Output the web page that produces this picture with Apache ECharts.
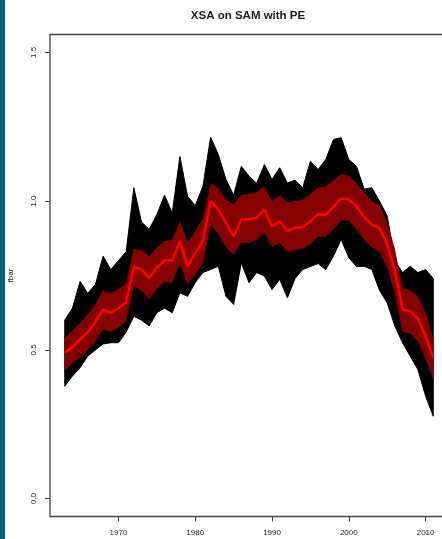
<!DOCTYPE html>
<html>
<head>
<meta charset="utf-8">
<script src="https://cdn.jsdelivr.net/npm/echarts@6/dist/echarts.min.js"></script>
<style>
html,body{margin:0;padding:0;background:#fff;}
#chart{width:442px;height:539px;}
</style>
</head>
<body>
<div id="chart"></div>
<script>
const years = [1963,1964,1965,1966,1967,1968,1969,1970,1971,1972,1973,1974,1975,1976,1977,1978,1979,1980,1981,1982,1983,1984,1985,1986,1987,1988,1989,1990,1991,1992,1993,1994,1995,1996,1997,1998,1999,2000,2001,2002,2003,2004,2005,2006,2007,2008,2009,2010,2011];

const median = [0.490,0.510,0.535,0.560,0.595,0.635,0.625,0.640,0.660,0.780,0.770,0.742,0.776,0.800,0.800,0.865,0.780,0.826,0.865,1.000,0.972,0.927,0.882,0.938,0.938,0.945,0.972,0.916,0.932,0.899,0.910,0.913,0.932,0.955,0.955,0.981,1.008,1.006,0.983,0.947,0.921,0.910,0.854,0.765,0.636,0.630,0.605,0.546,0.474];

const bandUpper = [0.540,0.565,0.590,0.620,0.655,0.700,0.690,0.705,0.725,0.840,0.835,0.815,0.845,0.865,0.870,0.935,0.860,0.900,0.940,1.060,1.045,1.005,0.990,1.020,1.025,1.030,1.050,1.000,1.020,0.995,1.000,1.005,1.025,1.045,1.050,1.070,1.090,1.085,1.060,1.030,1.000,0.985,0.930,0.840,0.710,0.700,0.680,0.625,0.540];

const bandLower = [0.430,0.455,0.475,0.500,0.530,0.570,0.560,0.575,0.595,0.715,0.700,0.670,0.705,0.730,0.725,0.790,0.720,0.755,0.790,0.920,0.890,0.845,0.820,0.860,0.860,0.870,0.895,0.845,0.860,0.830,0.835,0.840,0.855,0.880,0.880,0.905,0.935,0.935,0.905,0.870,0.845,0.830,0.775,0.690,0.560,0.555,0.530,0.470,0.400];

const iterMax = [0.600,0.640,0.730,0.690,0.720,0.815,0.770,0.800,0.830,1.045,0.930,0.905,0.955,1.020,0.960,1.150,1.016,0.985,1.050,1.215,1.157,1.073,1.020,1.117,1.084,1.060,1.123,1.073,1.112,1.061,1.070,1.045,1.134,1.106,1.140,1.207,1.213,1.140,1.117,1.040,1.045,1.000,0.950,0.800,0.760,0.781,0.760,0.770,0.740];

const iterMin = [0.378,0.412,0.440,0.479,0.500,0.520,0.524,0.524,0.560,0.613,0.600,0.580,0.625,0.640,0.625,0.692,0.680,0.726,0.760,0.770,0.781,0.680,0.653,0.793,0.726,0.760,0.748,0.703,0.737,0.675,0.740,0.770,0.780,0.790,0.770,0.815,0.871,0.810,0.780,0.781,0.770,0.700,0.658,0.580,0.524,0.479,0.434,0.345,0.277];

const yTicks = [0, 0.5, 1, 1.5];
const xTicks = [1970, 1980, 1990, 2000, 2010];

const pairs = (ys) => years.map((y, i) => [y, ys[i]]);

function bandRenderer(hi, lo, fill, stroke) {
  return function (params, api) {
    if (params.dataIndex !== 0) return null;
    const pts = [];
    for (let i = 0; i < years.length; i++) pts.push(api.coord([years[i], hi[i]]));
    for (let i = years.length - 1; i >= 0; i--) pts.push(api.coord([years[i], lo[i]]));
    return {
      type: 'polygon',
      shape: {points: pts},
      style: {fill: fill, stroke: stroke || null, lineWidth: stroke ? 1 : 0}
    };
  };
}

const FONT = "'Liberation Sans', Arial, sans-serif";
const chart = echarts.init(document.getElementById('chart'), null, {renderer: 'canvas'});
chart.setOption({
  animation: false,
  backgroundColor: '#ffffff',
  graphic: [
    {type: 'rect', left: 0, top: 0, shape: {x: 0, y: 0, width: 5, height: 539},
      style: {fill: '#005f7f'}, z: 100},
    {type: 'text', x: 248, y: 16, z: 100,
      style: {text: 'XSA on SAM with PE', font: "bold 11.5px 'Liberation Sans', Arial, sans-serif",
        fill: '#1a1a1a', align: 'center', verticalAlign: 'middle'}}
  ],
  grid: {
    left: 50, top: 34.5, width: 398, height: 482,
    outerBoundsMode: 'none', containLabel: false,
    show: true, borderColor: '#444', borderWidth: 1.3, backgroundColor: 'transparent'
  },
  xAxis: {
    type: 'value', min: 1961.08, max: 2012.92,
    splitLine: {show: false},
    axisLine: {show: false, onZero: false},
    axisTick: {show: true, customValues: xTicks, length: 5, lineStyle: {color: '#444', width: 1}},
    axisLabel: {customValues: xTicks, fontSize: 8, fontFamily: FONT, color: '#222', margin: 12,
      formatter: v => String(v)}
  },
  yAxis: {
    type: 'value', min: -0.06, max: 1.56,
    name: 'fbar', nameLocation: 'middle', nameRotate: 90, nameGap: 35,
    nameTextStyle: {fontSize: 8, fontFamily: FONT, color: '#222'},
    splitLine: {show: false},
    axisLine: {show: false, onZero: false},
    axisTick: {show: true, customValues: yTicks, length: 5, lineStyle: {color: '#444', width: 1}},
    axisLabel: {customValues: yTicks, rotate: 90, fontSize: 8, fontFamily: FONT, color: '#222', margin: 12,
      formatter: v => v.toFixed(1)}
  },
  series: [
    {type: 'custom', data: pairs(iterMax), silent: true, z: 2,
      renderItem: bandRenderer(iterMax, iterMin, '#000', '#000')},
    {type: 'custom', data: pairs(bandUpper), silent: true, z: 3,
      renderItem: bandRenderer(bandUpper, bandLower, '#850000', null)},
    {type: 'line', data: pairs(median), symbol: 'none', silent: true,
      lineStyle: {color: '#ff0000', width: 2.5}, z: 4}
  ]
});
</script>
</body>
</html>
